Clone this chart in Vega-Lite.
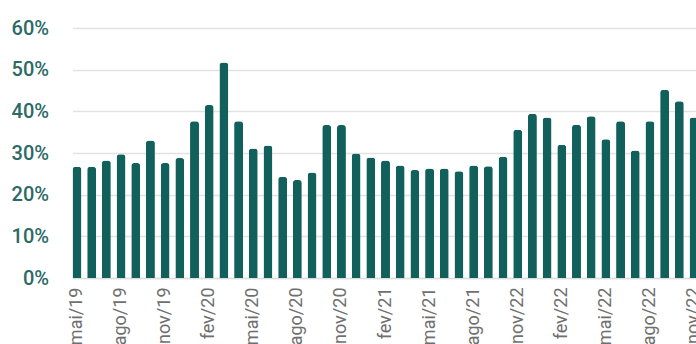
{
  "$schema": "https://vega.github.io/schema/vega-lite/v6.json",
  "autosize": "none",
  "width": 626,
  "height": 250,
  "padding": {"left": 72.5, "top": 28, "right": 0, "bottom": 66},
  "background": "white",
  "config": {"view": {"stroke": null}},
  "data": {"values": [
    {"mes": "mai/19", "taxa": 26.7}, {"mes": "jun/19", "taxa": 26.7}, {"mes": "jul/19", "taxa": 28.2},
    {"mes": "ago/19", "taxa": 29.7}, {"mes": "set/19", "taxa": 27.6}, {"mes": "out/19", "taxa": 33.0},
    {"mes": "nov/19", "taxa": 27.6}, {"mes": "dez/19", "taxa": 28.8}, {"mes": "jan/20", "taxa": 37.6},
    {"mes": "fev/20", "taxa": 41.5}, {"mes": "mar/20", "taxa": 51.7}, {"mes": "abr/20", "taxa": 37.6},
    {"mes": "mai/20", "taxa": 31.1}, {"mes": "jun/20", "taxa": 31.8}, {"mes": "jul/20", "taxa": 24.3},
    {"mes": "ago/20", "taxa": 23.5}, {"mes": "set/20", "taxa": 25.3}, {"mes": "out/20", "taxa": 36.7},
    {"mes": "nov/20", "taxa": 36.7}, {"mes": "dez/20", "taxa": 29.9}, {"mes": "jan/21", "taxa": 28.9},
    {"mes": "fev/21", "taxa": 28.2}, {"mes": "mar/21", "taxa": 27.0}, {"mes": "abr/21", "taxa": 25.9},
    {"mes": "mai/21", "taxa": 26.3}, {"mes": "jun/21", "taxa": 26.3}, {"mes": "jul/21", "taxa": 25.6},
    {"mes": "ago/21", "taxa": 27.0}, {"mes": "set/21", "taxa": 26.8}, {"mes": "out/21", "taxa": 29.1},
    {"mes": "nov/21", "taxa": 35.6}, {"mes": "dez/21", "taxa": 39.4}, {"mes": "jan/22", "taxa": 38.5},
    {"mes": "fev/22", "taxa": 32.0}, {"mes": "mar/22", "taxa": 36.8}, {"mes": "abr/22", "taxa": 38.8},
    {"mes": "mai/22", "taxa": 33.3}, {"mes": "jun/22", "taxa": 37.6}, {"mes": "jul/22", "taxa": 30.6},
    {"mes": "ago/22", "taxa": 37.6}, {"mes": "set/22", "taxa": 45.2}, {"mes": "out/22", "taxa": 42.4},
    {"mes": "nov/22", "taxa": 38.5}
  ]},
  "mark": {"type": "bar", "color": "#12605c", "cornerRadiusTopLeft": 3, "cornerRadiusTopRight": 3},
  "encoding": {
    "x": {
      "field": "mes", "type": "ordinal", "sort": null,
      "scale": {"paddingInner": 0.39, "paddingOuter": 0},
      "axis": {
        "title": null,
        "values": ["mai/19", "ago/19", "nov/19", "fev/20", "mai/20", "ago/20", "nov/20", "fev/21", "mai/21", "ago/21", "nov/21", "fev/22", "mai/22", "ago/22", "nov/22"],
        "labelExpr": "datum.value == 'nov/21' ? 'nov/22' : datum.value",
        "labelAngle": -90,
        "labelAlign": "right",
        "labelBaseline": "middle",
        "labelPadding": 9,
        "labelFont": "Roboto",
        "labelFontSize": 18,
        "labelColor": "#6f6f6f",
        "ticks": false,
        "domainColor": "#dddddd",
        "domainWidth": 1.5
      }
    },
    "y": {
      "field": "taxa", "type": "quantitative",
      "scale": {"domain": [0, 60], "nice": false},
      "axis": {
        "title": null,
        "values": [0, 10, 20, 30, 40, 50, 60],
        "labelExpr": "datum.value + '%'",
        "labelFont": "Roboto",
        "labelFontSize": 20,
        "labelFontWeight": 500,
        "labelColor": "#2b6a66",
        "labelPadding": 24,
        "ticks": false,
        "domain": false,
        "grid": true,
        "gridColor": "#e2e2e2",
        "gridWidth": 1.5
      }
    }
  }
}
